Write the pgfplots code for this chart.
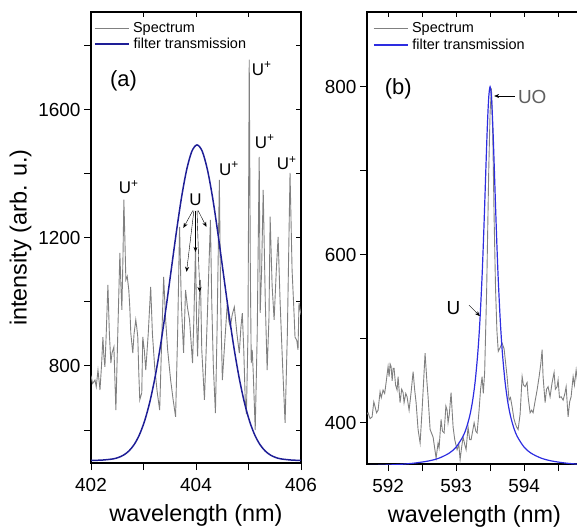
\documentclass[border=0pt]{standalone}
\usepackage{pgfplots}
\pgfplotsset{compat=1.18}
\usepackage{fontspec}
\setmainfont{Liberation Sans}
\usetikzlibrary{arrows.meta}
\definecolor{specgray}{RGB}{128,128,128}
\definecolor{navyA}{RGB}{30,30,150}
\definecolor{blueB}{RGB}{45,45,225}
\definecolor{uogray}{RGB}{95,95,95}

\newcommand{\legline}[2]{\tikz[baseline=-0.55ex]\draw[#1, line width=#2] (0bp,0bp) -- (34bp,0bp);}

\pgfplotsset{
  base/.style={
    scale only axis,
    axis line style={line width=1.1pt, black},
    every tick/.style={line width=1pt, black},
    major tick length=7bp,
    minor tick length=7bp,
    tick align=outside,
    xtick pos=left, ytick pos=left,
    /pgf/number format/assume math mode=true,
    /pgf/number format/1000 sep={},
    tick label style={font=\fontsize{19}{19}\selectfont},
    xticklabel style={yshift=-5bp},
    label style={font=\fontsize{23.5}{24}\selectfont},
    xlabel style={yshift=-6bp},
  },
  mirror/.style={
    scale only axis,
    axis line style={draw=none},
    every tick/.style={line width=1pt, black},
    major tick length=5bp,
    tick align=inside,
    xtick pos=right, ytick pos=right,
    xticklabels={}, yticklabels={},
  },
}

\pgfplotstableread{
x y
402.000 770
402.030 745
402.076 756
402.100 735
402.133 787
402.150 760
402.171 725
402.200 800
402.227 890
402.245 830
402.265 797
402.290 900
402.322 1053
402.350 900
402.379 809
402.400 840
402.436 859
402.455 760
402.474 662
402.510 900
402.550 1153
402.570 1050
402.588 975
402.610 1150
402.626 1319
402.645 1200
402.664 1069
402.690 1080
402.720 1037
402.740 980
402.758 903
402.796 840
402.820 900
402.853 944
402.872 920
402.891 891
402.910 780
402.929 694
402.967 716
402.986 891
403.015 850
403.043 787
403.090 900
403.137 1047
403.170 900
403.213 797
403.260 720
403.308 662
403.350 900
403.384 1078
403.422 944
403.460 850
403.517 756
403.560 700
403.611 641
403.650 900
403.687 1234
403.720 1000
403.763 841
403.801 1037
403.840 980
403.877 944
403.934 809
403.960 950
403.991 1172
404.010 950
404.030 830
404.060 1000
404.085 1069
404.110 850
404.161 694
404.218 965
404.275 1256
404.300 1000
404.330 800
404.370 653
404.400 900
404.445 1381
404.470 1000
404.502 756
404.550 880
404.597 997
404.625 940
404.654 922
404.690 960
404.730 984
404.780 900
404.825 840
404.855 920
404.882 965
404.910 850
404.938 691
404.960 650
404.990 900
405.014 1756
405.035 1100
405.052 809
405.071 850
405.090 780
405.128 600
405.166 900
405.204 1453
405.223 966
405.250 1100
405.280 1350
405.320 1000
405.355 787
405.390 950
405.412 1266
405.450 1050
405.488 944
405.530 1100
405.564 1203
405.602 1000
405.650 800
405.697 622
405.740 900
405.791 1403
405.830 1100
405.867 966
405.886 890
405.920 880
405.943 850
405.962 997
406.000 960
}\specA

\pgfplotstableread{
x y
402.00 505.0
402.22 506.2
402.42 509.8
402.52 514.1
402.62 521.6
402.72 534.2
402.82 554.1
402.92 584.3
403.02 627.7
403.12 687.3
403.22 764.8
403.32 860.0
403.42 970.4
403.52 1090.3
403.62 1210.8
403.72 1321.7
403.82 1411.0
403.92 1469.7
404.02 1490.0
404.12 1469.7
404.22 1411.0
404.32 1321.7
404.42 1210.8
404.52 1090.3
404.62 970.4
404.72 860.0
404.82 764.8
404.92 687.3
405.02 627.7
405.12 584.3
405.22 554.1
405.32 534.2
405.42 521.6
405.52 514.1
405.62 509.8
405.82 506.2
406.00 505.0
}\filtA

\pgfplotstableread{
x y
591.690 410
591.706 412
591.735 405
591.765 407
591.790 425
591.809 419
591.830 412
591.853 415
591.882 437
591.900 430
591.926 439
591.950 435
591.971 448
592.000 467
592.015 455
592.030 470
592.044 467
592.060 450
592.074 465
592.088 465
592.110 445
592.132 439
592.147 455
592.176 424
592.200 440
592.221 436
592.235 424
592.260 435
592.279 431
592.309 415
592.338 436
592.368 461
592.390 440
592.412 424
592.441 392
592.471 376
592.500 415
592.544 483
592.570 450
592.588 431
592.618 392
592.662 383
592.706 358
592.735 376
592.750 370
592.779 404
592.800 390
592.824 388
592.850 420
592.868 415
592.882 400
592.900 410
592.926 436
592.956 395
592.980 380
593.015 368
593.040 375
593.059 356
593.080 370
593.103 383
593.125 375
593.147 368
593.176 395
593.200 380
593.221 380
593.265 400
593.290 390
593.309 388
593.338 415
593.360 440
593.382 455
593.400 435
593.420 460
593.450 560
593.480 700
593.500 770
593.520 798
593.540 740
593.560 640
593.580 560
593.600 510
593.620 485
593.650 490
593.676 495
593.706 488
593.730 470
593.750 455
593.779 427
593.800 430
593.824 419
593.850 405
593.868 400
593.890 395
593.912 392
593.941 410
593.971 455
593.990 445
594.015 443
594.044 448
594.059 431
594.088 412
594.110 415
594.132 412
594.160 425
594.191 439
594.221 455
594.245 470
594.265 487
594.279 455
594.309 424
594.330 440
594.353 443
594.382 431
594.412 448
594.441 460
594.460 440
594.485 443
594.500 451
594.520 430
594.544 431
594.574 427
594.600 435
594.618 443
594.647 407
594.670 425
594.691 431
594.721 455
594.740 445
594.765 463
594.800 440
594.850 450
}\specB

\pgfplotstableread{
x y
591.65 348.9
592.00 349.8
592.20 350.7
592.40 352.2
592.60 354.7
592.75 358.0
592.90 364.0
593.00 371.1
593.10 383.6
593.15 393.6
593.20 408.1
593.24 424.9
593.28 448.9
593.32 484.0
593.35 521.1
593.38 570.6
593.40 611.6
593.42 658.2
593.44 707.5
593.46 753.7
593.48 787.4
593.50 800.0
593.52 787.4
593.54 753.7
593.56 707.5
593.58 658.2
593.60 611.6
593.62 570.6
593.65 521.1
593.68 484.0
593.72 448.9
593.76 424.9
593.80 408.1
593.85 393.6
593.90 383.6
594.00 371.1
594.10 364.0
594.25 358.0
594.40 354.7
594.60 352.2
594.80 350.7
594.90 350.0
}\filtB

\begin{document}
\begin{tikzpicture}
% ---------- panel (a)
\begin{axis}[base,
  at={(91bp,67bp)}, anchor=south west,
  width=210bp, height=451bp,
  xmin=402, xmax=406, ymin=497, ymax=1905,
  xtick={402,404,406}, minor xtick={403,405},
  ytick={800,1200,1600}, minor ytick={600,1000,1400,1800},
  xlabel={wavelength (nm)}, ylabel={intensity (arb. u.)},
  clip=true,
]
\addplot[specgray, line width=0.9pt] table[x=x,y=y] {\specA};
\addplot[navyA, line width=1.5pt, smooth] table[x=x,y=y] {\filtA};
\node[anchor=north west, inner sep=0pt, align=left, font=\fontsize{14.5}{17}\selectfont]
  at ([xshift=3bp,yshift=-10bp]rel axis cs:0,1)
  {\legline{specgray}{0.9pt}\hspace{4bp}Spectrum\\[-1bp] \legline{navyA}{1.5pt}\hspace{4bp}filter transmission};
\node[font=\fontsize{22}{22}\selectfont] at (axis cs:402.62,1690) {(a)};
\node[font=\fontsize{17}{17}\selectfont] at (axis cs:402.72,1359) {U\textsuperscript{+}};
\node[font=\fontsize{17}{17}\selectfont] at (axis cs:404.63,1416) {U\textsuperscript{+}};
\node[font=\fontsize{17}{17}\selectfont] at (axis cs:405.25,1728) {U\textsuperscript{+}};
\node[font=\fontsize{17}{17}\selectfont] at (axis cs:405.31,1500) {U\textsuperscript{+}};
\node[font=\fontsize{17}{17}\selectfont] at (axis cs:405.73,1434) {U\textsuperscript{+}};
\node[font=\fontsize{17}{17}\selectfont] at (axis cs:403.99,1319) {U};
\draw[-{Stealth[length=5bp,width=4bp]}, line width=0.4pt] (axis cs:403.94,1285) -- (axis cs:403.76,1231);
\draw[-{Stealth[length=5bp,width=4bp]}, line width=0.4pt] (axis cs:403.96,1285) -- (axis cs:403.82,1094);
\draw[-{Stealth[length=5bp,width=4bp]}, line width=0.4pt] (axis cs:403.99,1285) -- (axis cs:403.99,1156);
\draw[-{Stealth[length=5bp,width=4bp]}, line width=0.4pt] (axis cs:404.02,1285) -- (axis cs:404.07,1031);
\draw[-{Stealth[length=5bp,width=4bp]}, line width=0.4pt] (axis cs:404.04,1285) -- (axis cs:404.20,1234);
\end{axis}
\begin{axis}[mirror,
  at={(91bp,67bp)}, anchor=south west,
  width=210bp, height=451bp,
  xmin=402, xmax=406, ymin=497, ymax=1905,
  xtick={402,403,404,405,406}, ytick={600,800,1000,1200,1400,1600,1800},
]
\end{axis}
% ---------- panel (b)
\begin{axis}[base,
  at={(367bp,66bp)}, anchor=south west,
  width=214.9bp, height=452bp,
  xmin=591.69, xmax=594.85, ymin=351, ymax=889,
  xtick={592,593,594}, minor xtick={592.5,593.5,594.5},
  ytick={400,600,800}, minor ytick={500,700},
  xlabel={wavelength (nm)},
  clip=true,
]
\addplot[specgray, line width=0.9pt] table[x=x,y=y] {\specB};
\addplot[blueB, line width=1.2pt, smooth] table[x=x,y=y] {\filtB};
\node[anchor=north west, inner sep=0pt, align=left, font=\fontsize{14.5}{17}\selectfont]
  at ([xshift=6bp,yshift=-10bp]rel axis cs:0,1)
  {\legline{specgray}{0.9pt}\hspace{4bp}Spectrum\\[0bp] \legline{blueB}{1.2pt}\hspace{4bp}filter transmission};
\node[font=\fontsize{22}{22}\selectfont] at (axis cs:592.15,797) {(b)};
\node[font=\fontsize{19}{19}\selectfont, text=uogray] at (axis cs:594.12,788) {UO};
\draw[-{Stealth[length=5bp,width=4bp]}, line width=0.5pt] (axis cs:593.86,789) -- (axis cs:593.56,789);
\node[font=\fontsize{19}{19}\selectfont] at (axis cs:592.96,537) {U};
\draw[-{Stealth[length=5bp,width=4bp]}, line width=0.4pt] (axis cs:593.19,540) -- (axis cs:593.35,527);
\end{axis}
\begin{axis}[mirror,
  at={(367bp,66bp)}, anchor=south west,
  width=214.9bp, height=452bp,
  xmin=591.69, xmax=594.85, ymin=351, ymax=889,
  xtick={592,592.5,593,593.5,594,594.5}, ytick={},
]
\end{axis}
\pgfresetboundingbox
\useasboundingbox (0,0) rectangle (577bp,530bp);
\end{tikzpicture}
\end{document}
